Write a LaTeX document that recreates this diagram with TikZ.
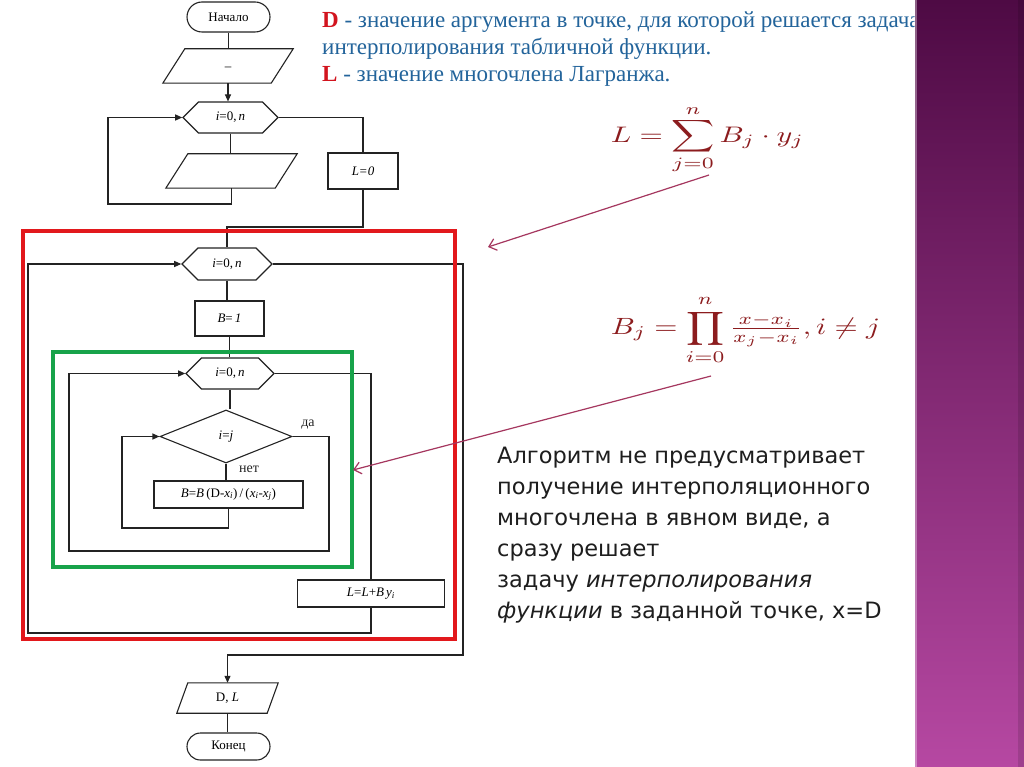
\documentclass[tikz,border=0pt]{standalone}
\usepackage{graphicx}
\usepackage{amsmath}
\usepackage{fontspec}
\setmainfont{Liberation Serif}
\newfontfamily\sansf{DejaVu Sans}
\usetikzlibrary{shapes.geometric,shapes.misc,shapes.symbols,arrows.meta}
\definecolor{fc}{RGB}{35,35,35}
\definecolor{boxred}{RGB}{226,24,28}
\definecolor{boxgreen}{RGB}{24,163,74}
\definecolor{notec}{RGB}{165,55,95}
\definecolor{fred}{RGB}{140,28,30}
\definecolor{tblue}{RGB}{35,100,155}
\definecolor{tred}{RGB}{210,20,30}
\definecolor{ptop}{RGB}{78,10,68}
\definecolor{pbot}{RGB}{182,72,162}
\definecolor{ptext}{RGB}{30,30,30}
\begin{document}
\begin{tikzpicture}[x=1pt,y=-1pt,
  flow/.style={draw=fc, line width=1.1pt, inner sep=0pt, font=\fontsize{13}{15}\selectfont},
  term/.style={flow, rounded rectangle, minimum width=83pt},
  proc/.style={flow, rectangle},
  pgram/.style={rectangle, inner sep=0pt, font=\fontsize{13}{15}\selectfont,
    append after command={\pgfextra{\draw[draw=fc, line width=1.1pt, line join=miter]
      ([xshift=#1]\tikzlastnode.north west) -- (\tikzlastnode.north east) --
      ([xshift=-#1]\tikzlastnode.south east) -- (\tikzlastnode.south west) -- cycle;}}},
  hexa/.style={flow, signal, signal to=east and west, signal pointer angle=90},
  dec/.style={flow, diamond},
  conn/.style={draw=fc, line width=1.1pt},
  arr/.style={conn, -{Triangle[length=7pt,width=6pt]}},
  note/.style={draw=notec, line width=1.2pt, -{Straight Barb[length=7pt,width=12pt]}},
  lbl/.style={font=\fontsize{14}{16}\selectfont, text=fc, inner sep=0pt},
  toptext/.style={anchor=base west, inner sep=0pt, text=tblue, font=\fontsize{23}{27}\selectfont},
  para/.style={anchor=base west, inner sep=0pt, text=ptext, font=\sansf\fontsize{22.5}{31}\selectfont},
  frame/.style={line width=4pt}
]
\useasboundingbox (0,0) rectangle (1024,767);
\fill[white] (0,0) rectangle (1024,767);

% ---------- flowchart nodes ----------
\node[term, minimum height=30pt] (start) at (228.5,17) {Начало};
\node[pgram=22pt, minimum width=130pt, minimum height=34pt] (in1) at (228,66) {\raisebox{-9pt}{–}};
\node[hexa, minimum width=95pt, minimum height=31pt] (hex1) at (230.5,117.5) {\textit{i}=0,\,\textit{n}};
\node[pgram=22pt, minimum width=131pt, minimum height=34pt] (in2) at (231.5,171) {};
\node[proc, minimum width=70pt, minimum height=36pt] (L0) at (363,171) {\textit{L=0}};
\node[hexa, minimum width=90pt, minimum height=32pt] (hex2) at (227,264) {\textit{i}=0,\,\textit{n}};
\node[proc, minimum width=69pt, minimum height=35pt] (B1) at (229.5,318.5) {\textit{B}=\,\textit{1}};
\node[hexa, minimum width=88pt, minimum height=31pt] (hex3) at (230,373.5) {\textit{i}=0,\,\textit{n}};
\node[dec, minimum width=132pt, minimum height=53pt] (dia) at (226,436.5) {\textit{i}=\textit{j}};
\node[proc, minimum width=149pt, minimum height=27pt] (Bb) at (228.5,494.5)
  {\textit{B}=\textit{B}\,(D-\textit{x}\textsubscript{\textit{i}})\,/\,(\textit{x}\textsubscript{\textit{i}}-\textit{x}\textsubscript{\textit{j}})};
\node[proc, minimum width=147pt, minimum height=27pt] (LL) at (371,593.5)
  {\textit{L}=\textit{L}+\textit{B}\,\textit{y}\textsubscript{\textit{i}}};
\node[pgram=11pt, minimum width=101pt, minimum height=30pt] (out) at (227.5,698) {D, \textit{L}};
\node[term, minimum height=27pt] (end) at (228.5,746.5) {Конец};

% ---------- helper coordinates ----------
\coordinate (lp1) at (108,204);
\coordinate (j1) at (363,227);
\coordinate (lp2) at (69,551);
\coordinate (dr) at (329,551);
\coordinate (lp3) at (122,528);
\coordinate (lp4) at (28,633);
\coordinate (r1) at (463,655);

% ---------- connectors ----------
\draw[conn] (start.south) -- (start.south |- in1.north);
\draw[arr] (in1.south) -- (in1.south |- hex1.north);
\draw[conn] (hex1.south) -- (hex1.south |- in2.north);
\draw[arr] (in2.south) |- (lp1) |- (hex1.west);
\draw[conn] (hex1.east) -| (L0.north);
\draw[conn] (L0.south) -- (L0.south |- j1) -| (hex2.north);
\draw[conn] (hex2.south) -- (hex2.south |- B1.north);
\draw[conn] (B1.south) -- (B1.south |- hex3.north);
\draw[conn] (hex3.south) -- (hex3.south |- dia.north);
\draw[conn] (dia.south) -- (dia.south |- Bb.north);
\draw[arr] (Bb.south) |- (lp3) |- (dia.west);
\draw[arr] (dia.east) -| (dr) -- (lp2) |- (hex3.west);
\draw[conn] (hex3.east) -| (LL.north);
\draw[arr] (LL.south) |- (lp4) |- (hex2.west);
\draw[arr] (hex2.east) -| (r1) -| (out.north);
\draw[conn] (out.south) -- (out.south |- end.north);

\node[lbl] (da) at (308,425) {да};
\node[lbl] (net) at (249,469) {нет};

% ---------- frames ----------
\draw[frame, boxred] (23,231) rectangle (455,639);
\draw[frame, boxgreen] (53,352) rectangle (352,567);

% ---------- top text ----------
\node[toptext] (t1) at (322,28) {\textcolor{tred}{\textbf{D}} - значение аргумента в точке, для которой решается задача};
\node[toptext] (t2) at (322,55) {интерполирования табличной функции.};
\node[toptext] (t3) at (322,82) {\textcolor{tred}{\textbf{L}} - значение многочлена Лагранжа.};

% ---------- formulas ----------
\node[inner sep=0pt, text=fred] (f1) at (707.5,139.5) {\scalebox{3.0}[2.25]{$\displaystyle L=\sum_{j=0}^{n}B_j\cdot y_j$}};
\node[inner sep=0pt, text=fred] (f2) at (745.5,330) {\scalebox{2.98}[2.35]{$\displaystyle B_j=\prod_{i=0}^{n}\tfrac{x-x_i}{x_j-x_i},i\neq j$}};

\coordinate (a1s) at (709,175);
\coordinate (a1e) at (488,247);
\coordinate (a2s) at (711,376);
\coordinate (a2e) at (353,470);
\draw[note] (a1s) -- (a1e);
\draw[note] (a2s) -- (a2e);

% ---------- paragraph ----------
\node[para] (p1) at (497,463) {Алгоритм не предусматривает};
\node[para] (p2) at (497,494) {получение интерполяционного};
\node[para] (p3) at (497,525) {многочлена в явном виде, а};
\node[para] (p4) at (497,556) {сразу решает};
\node[para] (p5) at (497,587) {задачу \textit{интерполирования}};
\node[para] (p6) at (497,618) {\textit{функции} в заданной точке, x=D};

% ---------- purple bar ----------
\shade[top color=ptop, bottom color=pbot] (915,0) rectangle (1024,767);
\fill[white, opacity=0.35] (914,0) rectangle (917,767);
\fill[black, opacity=0.12] (1018,0) rectangle (1024,767);
\end{tikzpicture}
\end{document}
